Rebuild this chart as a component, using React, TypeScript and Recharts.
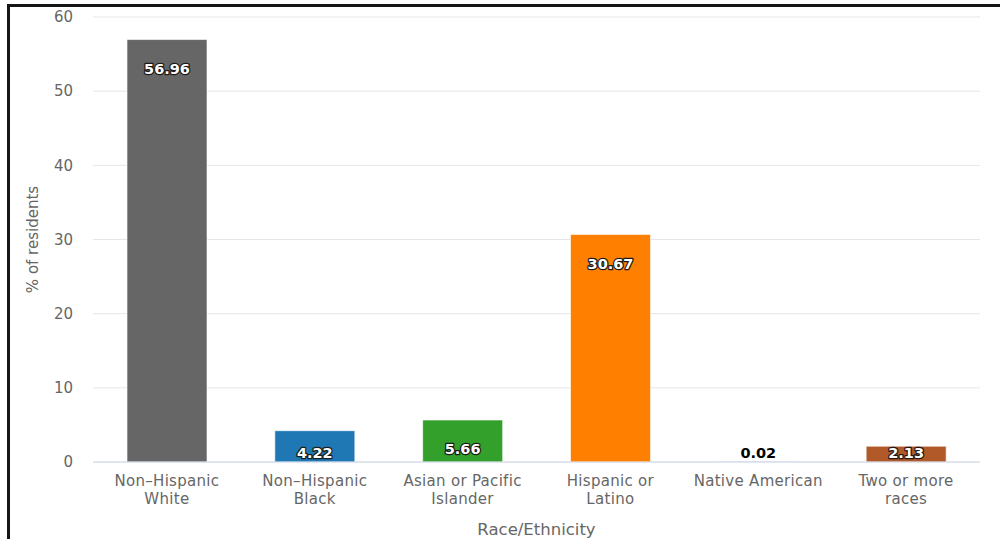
import * as React from "react";
import {
  BarChart,
  Bar,
  Cell,
  XAxis,
  YAxis,
  CartesianGrid,
  LabelList,
  Label,
} from "recharts";

const categories = [
  "Non–Hispanic White",
  "Non–Hispanic Black",
  "Asian or Pacific Islander",
  "Hispanic or Latino",
  "Native American",
  "Two or more races",
];

// how each category name is broken under the axis
const tickLines = [
  ["Non–Hispanic", "White"],
  ["Non–Hispanic", "Black"],
  ["Asian or Pacific", "Islander"],
  ["Hispanic or", "Latino"],
  ["Native American"],
  ["Two or more", "races"],
];

const shares = [56.96, 4.22, 5.66, 30.67, 0.02, 2.13];

const barColors = ["#666666", "#1f78b4", "#33a02c", "#ff7f00", "#6a3d9a", "#b15928"];

const yTicks = [0, 10, 20, 30, 40, 50, 60];

const FONT = "'DejaVu Sans', Verdana, sans-serif";
const TEXT_GRAY = "#666666";

const data = categories.map((name, i) => ({ name, value: shares[i] }));

const CategoryTick = (props: any) => {
  const { x, y, payload } = props;
  const idx = categories.indexOf(payload.value);
  const lines = tickLines[idx] || [payload.value];
  return (
    <text
      x={x}
      y={y}
      textAnchor="middle"
      fill={TEXT_GRAY}
      fontFamily={FONT}
      fontSize={15}
      letterSpacing={0.3}
    >
      {lines.map((line, i) => (
        <tspan key={i} x={x} y={Number(y) + 24 + i * 18}>
          {line}
        </tspan>
      ))}
    </text>
  );
};

const ValueLabel = (props: any) => {
  const x = Number(props.x);
  const y = Number(props.y);
  const width = Number(props.width);
  const height = Number(props.height);
  const value = Number(props.value);
  const base = y + height;
  const cy = Math.min(y + 29, base - 9);
  const inside = height > 4;
  return (
    <text
      x={x + width / 2}
      y={cy}
      textAnchor="middle"
      dominantBaseline="central"
      fontFamily={FONT}
      fontWeight="bold"
      fontSize={14.5}
      fill={inside ? "#ffffff" : "#000000"}
      stroke={inside ? "#1a1a1a" : "none"}
      strokeWidth={2.5}
      strokeLinejoin="round"
      paintOrder="stroke"
    >
      {value.toFixed(2)}
    </text>
  );
};

const YTitle = (props: any) => {
  const vb = props.viewBox || {};
  const cx = 33;
  const cy = Number(vb.y) + Number(vb.height) / 2;
  return (
    <text
      x={cx}
      y={cy}
      transform={`rotate(-90, ${cx}, ${cy})`}
      textAnchor="middle"
      dominantBaseline="central"
      fill={TEXT_GRAY}
      fontFamily={FONT}
      fontSize={15}
    >
      % of residents
    </text>
  );
};

const XTitle = (props: any) => {
  const vb = props.viewBox || {};
  const cx = Number(vb.x) + Number(vb.width) / 2;
  return (
    <text
      x={cx}
      y={535}
      textAnchor="middle"
      fill={TEXT_GRAY}
      fontFamily={FONT}
      fontSize={16.5}
    >
      Race/Ethnicity
    </text>
  );
};

export default function App() {
  return (
    <div
      style={{
        position: "absolute",
        top: 0,
        left: 0,
        width: 1000,
        height: 539,
        background: "#ffffff",
        overflow: "hidden",
      }}
    >
      <div
        style={{
          position: "absolute",
          top: 4,
          left: 7,
          right: 0,
          bottom: 0,
          borderTop: "3px solid #151515",
          borderLeft: "3px solid #151515",
        }}
      />
      <BarChart
        width={1000}
        height={539}
        data={data}
        margin={{ top: 17, right: 20, bottom: 0, left: 0 }}
        style={{ position: "absolute", top: 0, left: 0 }}
      >
        <CartesianGrid vertical={false} stroke="#e6e6e6" />
        <XAxis
          dataKey="name"
          interval={0}
          height={77}
          tickLine={false}
          tickSize={0}
          tickMargin={0}
          stroke="#ccd6eb"
          tick={<CategoryTick />}
        >
          <Label content={<XTitle />} />
        </XAxis>
        <YAxis
          width={93}
          domain={[0, 60]}
          ticks={yTicks}
          axisLine={false}
          tickLine={false}
          tickSize={0}
          tickMargin={20}
          tick={{ fill: TEXT_GRAY, fontSize: 15, fontFamily: FONT }}
        >
          <Label content={<YTitle />} />
        </YAxis>
        <Bar
          dataKey="value"
          barSize={80}
          stroke="#ffffff"
          strokeOpacity={0.6}
          strokeWidth={1}
          isAnimationActive={false}
        >
          {data.map((d, i) => (
            <Cell key={d.name} fill={barColors[i]} />
          ))}
          <LabelList dataKey="value" content={<ValueLabel />} />
        </Bar>
      </BarChart>
    </div>
  );
}
